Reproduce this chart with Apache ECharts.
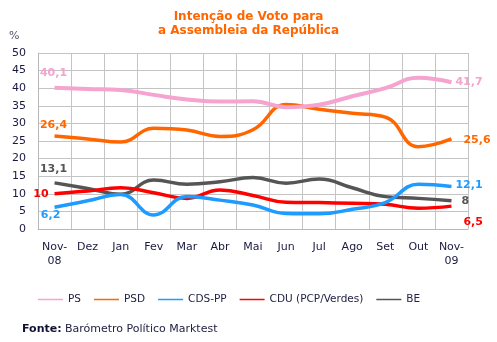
<!DOCTYPE html>
<html><head><meta charset="utf-8">
<script src="https://cdn.jsdelivr.net/npm/echarts@6/dist/echarts.min.js"></script>
<style>html,body{margin:0;padding:0;background:#fff}#c{width:497px;height:342px}</style>
</head><body><div id="c"></div>
<script>
const categories = ['Nov-\n08','Dez','Jan','Fev','Mar','Abr','Mai','Jun','Jul','Ago','Set','Out','Nov-\n09'];
const seriesNames = ['PS','PSD','CDS-PP','CDU (PCP/Verdes)','BE'];
const PS  = [40.1, 39.8, 39.5, 38.1, 36.8, 36.2, 36.3, 34.6, 35.3, 37.7, 40.0, 43.0, 41.7];
const PSD = [26.4, 25.6, 24.7, 28.6, 28.1, 26.3, 28.2, 35.4, 34.0, 32.9, 31.8, 23.4, 25.6];
const CDS = [6.2, 8.0, 9.8, 4.0, 9.2, 8.2, 6.8, 4.4, 4.3, 5.6, 7.5, 12.7, 12.1];
const CDU = [10.0, 10.8, 11.7, 10.3, 8.7, 11.1, 9.5, 7.6, 7.5, 7.3, 7.0, 5.9, 6.5];
const BE  = [13.1, 11.5, 9.9, 13.9, 12.7, 13.4, 14.6, 13.0, 14.2, 11.7, 9.2, 8.7, 8.0];
const yTicks = [0,5,10,15,20,25,30,35,40,45,50];
const colors = ['#F5A3CF','#FF6600','#1E9BFF','#FF0000','#555555'];
const widths = [4,3.5,3.5,3.5,3.5];
const allData = [PS, PSD, CDS, CDU, BE];
// label offsets [dx, dy] from the first / last data point, with alignment
const firstLab = [
  {d:[-1,-15], align:'center'},
  {d:[-1,-11], align:'center'},
  {d:[-4,8], align:'center'},
  {d:[-6,0], align:'right'},
  {d:[-1,-14], align:'center'}
];
const lastLab = [
  {d:[4,0], align:'left'},
  {d:[12,1], align:'left'},
  {d:[4,-1], align:'left'},
  {d:[12,16], align:'left'},
  {d:[10,0], align:'left'}
];
const fmt = v => String(v).replace('.', ',');
const chart = echarts.init(document.getElementById('c'), null, {renderer:'canvas'});
const series = allData.map((arr, i) => ({
  name: seriesNames[i],
  type: 'line',
  smooth: 0.45,
  symbol: 'circle',
  symbolSize: 0,
  showSymbol: true,
  lineStyle: {color: colors[i], width: widths[i]},
  itemStyle: {color: colors[i]},
  z: 10 - i,
  labelLayout: function (p) {
    const last = arr.length - 1;
    if (p.dataIndex !== 0 && p.dataIndex !== last) return {};
    const l = p.dataIndex === 0 ? firstLab[i] : lastLab[i];
    const cx = p.rect.x + p.rect.width / 2, cy = p.rect.y + p.rect.height / 2;
    return {x: cx + l.d[0], y: cy + l.d[1], align: l.align, verticalAlign: 'middle', moveOverlap: false, hideOverlap: false};
  },
  data: arr.map((v, j) => {
    const item = {value: v};
    if (j === 0 || j === arr.length - 1) {
      item.label = {show: true, formatter: fmt(v), color: colors[i],
        fontFamily: 'DejaVu Sans', fontWeight: 'bold', fontSize: 11};
    }
    return item;
  })
}));
chart.setOption({
  animation: false,
  textStyle: {fontFamily: 'DejaVu Sans'},
  grid: {left: 38, right: 29, top: 53, bottom: 113, containLabel: false},
  legend: {
    data: seriesNames, left: 38, top: 294, padding: 0, icon: 'rect', itemWidth: 25, itemHeight: 1.5,
    itemGap: 13, textStyle: {fontFamily: 'DejaVu Sans', fontSize: 10.5, color: '#222244'}
  },
  xAxis: {
    type: 'category', data: categories, boundaryGap: true,
    axisLine: {lineStyle: {color: '#b8b8b8', width: 1}},
    axisTick: {show: false},
    splitLine: {show: true, lineStyle: {color: '#c4c4c4', width: 1}},
    axisLabel: {interval: 0, margin: 11, color: '#1a1a40', fontSize: 11, lineHeight: 14, fontFamily: 'DejaVu Sans'}
  },
  yAxis: {
    type: 'value', min: 0, max: 50, interval: 5,
    axisLine: {show: true, lineStyle: {color: '#b8b8b8'}},
    axisTick: {show: false},
    splitLine: {lineStyle: {color: '#c4c4c4', width: 1}},
    axisLabel: {margin: 12, color: '#1a1a40', fontSize: 11, fontFamily: 'DejaVu Sans',
      formatter: v => yTicks.includes(v) ? String(v) : ''}
  },
  series: series,
  graphic: [
    {type: 'text', left: 'center', top: 10, style: {text: 'Intenção de Voto para\na Assembleia da República',
      x: 0, textAlign: 'center', fill: '#FF6600', font: 'bold 12px "DejaVu Sans"', lineHeight: 14}},
    {type: 'text', left: 9, top: 31, style: {text: '%', fill: '#555566', font: '11px "DejaVu Sans"'}},
    {type: 'text', left: 22, top: 323, style: {rich: {b: {font: 'bold 11px "DejaVu Sans"', fill: '#111133'}, n: {font: '11px "DejaVu Sans"', fill: '#222244'}},
      text: '{b|Fonte:} {n|Barómetro Político Marktest}'}}
  ]
});
</script></body></html>
